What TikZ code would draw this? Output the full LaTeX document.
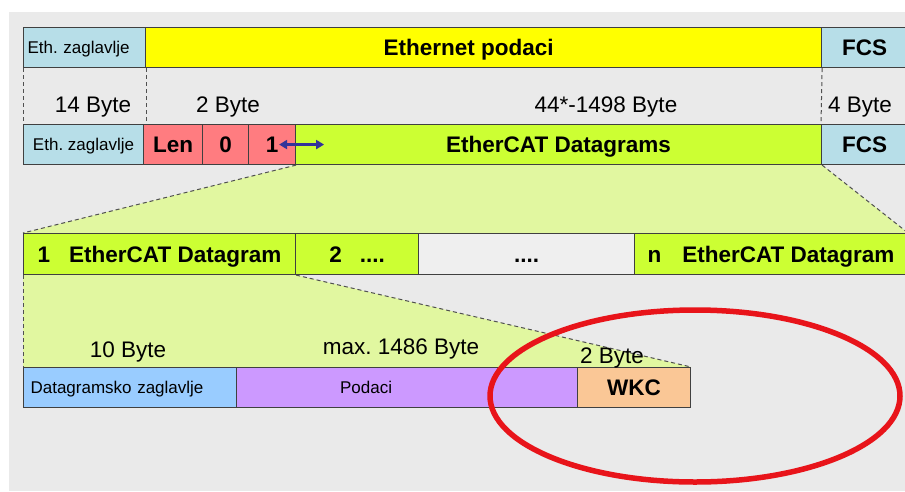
\documentclass[tikz,border=0pt]{standalone}
\usepackage{fontspec}
\setmainfont{Liberation Sans}
\usepackage{tikz}
\usetikzlibrary{arrows.meta}
\usetikzlibrary{backgrounds}
\frenchspacing

\definecolor{bggrey}{HTML}{EAEAEA}
\definecolor{boxline}{HTML}{404040}
\definecolor{edgegrey}{HTML}{505050}
\definecolor{ethblue}{HTML}{B7DEE8}
\definecolor{ethyellow}{HTML}{FFFF00}
\definecolor{lenpink}{HTML}{FF7C80}
\definecolor{ecatgreen}{HTML}{CCFF33}
\definecolor{zoomgreen}{HTML}{E1F7A0}
\definecolor{dotsgrey}{HTML}{EFEFEF}
\definecolor{hdrblue}{HTML}{99CCFF}
\definecolor{datapurple}{HTML}{CC99FF}
\definecolor{wkcorange}{HTML}{FAC796}
\definecolor{ringred}{HTML}{E8141A}
\definecolor{arrowblue}{HTML}{333399}

\begin{document}
\begin{tikzpicture}[x=1pt,y=1pt,yscale=-1,xscale=1,
        field/.style={draw=boxline, line width=1.1pt, minimum height=40pt, inner sep=0pt, anchor=north west},
        smalltxt/.style={font=\fontsize{17}{20}\selectfont, text height=12pt, text depth=0pt},
        bigtxt/.style={font=\fontsize{22.5}{26}\selectfont\bfseries, text height=16pt, text depth=0pt},
        bytetxt/.style={font=\fontsize{22.5}{26}\selectfont, inner sep=0pt},
        zoomedge/.style={draw=edgegrey, line width=1pt, dash pattern=on 4pt off 3pt}]
        \useasboundingbox (0,0) rectangle (905,491);
        
        %Row: Ethernet frame
        \node[field, smalltxt, fill=ethblue, text width=114pt, inner xsep=4pt, align=left] (ethA) at (23,27) {Eth. zaglavlje};
        \node[field, fill=ethyellow, minimum width=676pt] (ethdata) at (145,27) {};
        \node[field, bigtxt, fill=ethblue, minimum width=86pt] (fcsA) at (821,27) {FCS};
        % Text Node
        \node[bigtxt] (ethdataTxt) at ([xshift=-15pt]ethdata.center) {Ethernet podaci};
        
        %Row: EtherCAT frame
        \node[field, smalltxt, fill=ethblue, minimum width=120pt] (ethB) at (23,124) {Eth. zaglavlje};
        \node[field, bigtxt, fill=lenpink, minimum width=59pt] (len) at (143,124) {Len};
        \node[field, bigtxt, fill=lenpink, minimum width=46pt] (zero) at (202,124) {0};
        \node[field, bigtxt, fill=lenpink, minimum width=47pt] (one) at (248,124) {1};
        \node[field, bigtxt, fill=ecatgreen, minimum width=526pt] (dgrams) at (295,124) {EtherCAT Datagrams};
        \node[field, bigtxt, fill=ethblue, minimum width=86pt] (fcsB) at (821,124) {FCS};
        
        % Text Node
        \node[bytetxt] (b14) at (93,107) {14 Byte};
        \node[bytetxt] (b2) at (228,107) {2 Byte};
        \node[bytetxt] (b1498) at (606,107) {44*-1498 Byte};
        \node[bytetxt] (b4) at (860,107) {4 Byte};
        
        %Row: datagrams
        \node[field, bigtxt, fill=ecatgreen, minimum width=272pt, minimum height=41pt] (dgA) at (23,233) {1\hspace{19pt}EtherCAT Datagram};
        \node[field, bigtxt, fill=ecatgreen, minimum width=123pt, minimum height=41pt] (dgB) at (295,233) {2\hspace{18pt}....};
        \node[field, bigtxt, fill=dotsgrey, minimum width=216pt, minimum height=41pt] (dgDots) at (418,233) {....};
        \node[field, bigtxt, fill=ecatgreen, minimum width=273pt, minimum height=41pt] (dgN) at (634,233) {n\hspace{21pt}EtherCAT Datagram};
        
        %Row: one datagram
        \node[field, smalltxt, fill=hdrblue, text width=199pt, inner xsep=7pt, align=left] (hdr) at (23,367) {Datagramsko zaglavlje};
        \node[field, fill=datapurple, minimum width=341pt] (podaci) at (236,367) {};
        \node[field, bigtxt, fill=wkcorange, minimum width=113pt] (wkc) at (577,367) {WKC};
        % Text Node
        \node[smalltxt] (podaciTxt) at ([xshift=-41pt]podaci.center) {Podaci};
        
        % Text Node
        \node[bytetxt] (b10) at (128,352) {10 Byte};
        \node[bytetxt] (b1486) at (401,349) {max. 1486 Byte};
        \node[bytetxt] (b2w) at (612,358) {2 Byte};
        
        %Straight Lines: blue double arrow
        \coordinate (arrL) at ([xshift=-17pt]one.east);
        \coordinate (arrR) at ([xshift=28pt]one.east);
        \draw[arrowblue, line width=2.2pt, {Triangle[length=8pt,width=9pt]}-{Triangle[length=8pt,width=9pt]}] (arrL) -- (arrR);
        
        \begin{scope}[on background layer]
        \fill[white] (0,0) rectangle (905,491);
        \fill[bggrey] (9,12) rectangle (905,491);
        %Shape: zoom areas
        \fill[zoomgreen] (one.south east) -- (dgrams.south east) -- (dgN.north east) -- (dgA.north west) -- cycle;
        \fill[zoomgreen] (dgA.south west) -- (dgA.south east) -- (wkc.north east) -- (hdr.north west) -- cycle;
        %Straight Lines: dashed
        \draw[zoomedge] (ethA.south west) -- (ethB.north west);
        \draw[zoomedge] (ethA.south east) -- (ethA.south east |- len.north);
        \draw[zoomedge] (ethdata.south east) -- (fcsB.north west);
        \draw[zoomedge] (one.south east) -- (dgA.north west);
        \draw[zoomedge] (dgrams.south east) -- (dgN.north east);
        \draw[zoomedge] (dgA.south west) -- (hdr.north west);
        \draw[zoomedge] (dgA.south east) -- (wkc.north east);
        \end{scope}
        
        %Shape: Ellipse
        \draw[ringred, line width=5.5pt] (695,396) ellipse [x radius=205, y radius=86];
        \end{tikzpicture}
\end{document}
